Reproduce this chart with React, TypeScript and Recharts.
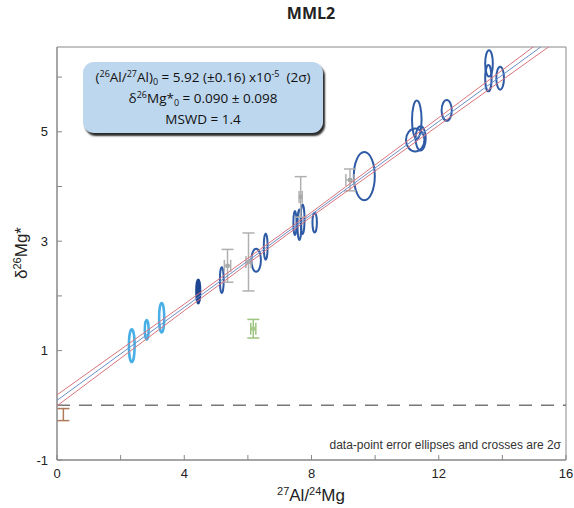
import React from 'react';
import {
  ScatterChart,
  Scatter,
  XAxis,
  YAxis,
  ReferenceArea,
  ReferenceLine,
  ErrorBar,
} from 'recharts';

// isochron fit read from the box
const fitIntercept = 0.09;
const fitSlope = 0.4249;

// envelope half width read at these x values
const envX = [0, 4, 8, 12, 16];
const envHalf = [0.1, 0.06, 0.04, 0.07, 0.11];

// ellipses: centre and 2σ half axes
const lightEllipses = [
  { x: 2.35, y: 1.09, dx: 0.09, dy: 0.3 },
  { x: 2.82, y: 1.38, dx: 0.06, dy: 0.18 },
  { x: 3.29, y: 1.6, dx: 0.08, dy: 0.27 },
];

const navyEllipses = [{ x: 4.44, y: 2.08, dx: 0.05, dy: 0.21 }];

const blueEllipses = [
  { x: 5.18, y: 2.29, dx: 0.06, dy: 0.24 },
  { x: 6.26, y: 2.65, dx: 0.15, dy: 0.21 },
  { x: 6.56, y: 2.9, dx: 0.06, dy: 0.24 },
  { x: 7.48, y: 3.33, dx: 0.05, dy: 0.22 },
  { x: 7.62, y: 3.3, dx: 0.06, dy: 0.28 },
  { x: 7.72, y: 3.4, dx: 0.06, dy: 0.27 },
  { x: 8.1, y: 3.34, dx: 0.07, dy: 0.18 },
  { x: 9.66, y: 4.19, dx: 0.33, dy: 0.44 },
  { x: 11.31, y: 5.22, dx: 0.15, dy: 0.35 },
  { x: 11.26, y: 4.85, dx: 0.29, dy: 0.21 },
  { x: 11.43, y: 4.88, dx: 0.16, dy: 0.22 },
  { x: 12.25, y: 5.39, dx: 0.16, dy: 0.19 },
  { x: 13.58, y: 6.25, dx: 0.12, dy: 0.24 },
  { x: 13.56, y: 5.98, dx: 0.1, dy: 0.24 },
  { x: 13.93, y: 5.98, dx: 0.12, dy: 0.21 },
];

// error crosses
const grayCrosses = [
  { x: 5.36, y: 2.55, ex: 0.1, ey: 0.3 },
  { x: 6.02, y: 2.62, ex: 0.08, ey: 0.53 },
  { x: 7.66, y: 3.81, ex: 0.05, ey: 0.37 },
  { x: 9.21, y: 4.12, ex: 0.13, ey: 0.2 },
];
const greenCrosses = [{ x: 6.17, y: 1.4, ex: 0.08, ey: 0.17 }];
const brownCrosses = [{ x: 0.2, y: -0.17, ex: 0.02, ey: 0.11 }];

const xTicks = [0, 2, 4, 6, 8, 10, 12, 14, 16];
const xLabels = [0, 4, 8, 12, 16];
const yTicks = [-1, 0, 1, 2, 3, 4, 5, 6];
const yLabels = [-1, 1, 3, 5];

const fitLine = envX.map((x) => ({ x, y: fitIntercept + fitSlope * x }));
const upperLine = envX.map((x, i) => ({ x, y: fitIntercept + fitSlope * x + envHalf[i] }));
const lowerLine = envX.map((x, i) => ({ x, y: fitIntercept + fitSlope * x - envHalf[i] }));

const ellipseShape = (stroke: string, width: number, fill = 'none') => (p: any) => (
  <ellipse
    cx={p.x + p.width / 2}
    cy={p.y + p.height / 2}
    rx={Math.abs(p.width) / 2}
    ry={Math.abs(p.height) / 2}
    fill={fill}
    stroke={stroke}
    strokeWidth={width}
  />
);

const centreMark = (color: string) => (p: any) => (
  <rect x={p.cx - 2} y={p.cy - 2} width={4} height={4} fill={color} />
);

const font = '"Liberation Sans", Arial, sans-serif';

// raised / lowered small text without changing line height
const Up = ({ children, size = 9, shift = -5 }: any) => (
  <span style={{ fontSize: size, position: 'relative', top: shift, lineHeight: 0 }}>{children}</span>
);

export default function App() {
  const renderEllipses = (list: typeof blueEllipses, stroke: string, w: number, fill?: string, key = '') =>
    list.map((e, i) => (
      <ReferenceArea
        key={key + i}
        x1={e.x - e.dx}
        x2={e.x + e.dx}
        y1={e.y - e.dy}
        y2={e.y + e.dy}
        ifOverflow="visible"
        shape={ellipseShape(stroke, w, fill)}
      />
    ));

  return (
    <div style={{ position: 'absolute', left: 0, top: 0, width: 574, height: 508, background: '#fff', fontFamily: font }}>
      <div style={{ position: 'absolute', left: 0, width: 622, top: 2, textAlign: 'center', fontFamily: '"Open Sans", sans-serif', fontWeight: 700, fontSize: 16, color: '#222' }}>
        MML2
      </div>

      <ScatterChart width={574} height={508} margin={{ top: 47, right: 8, bottom: 0, left: 0 }}>
        <XAxis
          type="number"
          dataKey="x"
          domain={[0, 16]}
          ticks={xTicks}
          allowDataOverflow
          height={48}
          tickSize={-5}
          tickMargin={14}
          stroke="#888"
          tick={{ fill: '#222', fontSize: 13, fontFamily: font }}
          tickFormatter={(v: number) => (xLabels.includes(v) ? String(v) : '')}
        />
        <YAxis
          type="number"
          dataKey="y"
          domain={[-1, 6.55]}
          ticks={yTicks}
          allowDataOverflow
          width={57}
          tickSize={-5}
          tickMargin={14}
          stroke="#888"
          tick={{ fill: '#222', fontSize: 13, fontFamily: font }}
          tickFormatter={(v: number) => (yLabels.includes(v) ? String(v) : '')}
        />
        <ReferenceArea x1={0} x2={16} y1={-1} y2={6.55} fill="none" stroke="#888" strokeWidth={1} ifOverflow="visible" />
        <ReferenceLine y={0} stroke="#777" strokeWidth={1.5} strokeDasharray="13 9" />

        <Scatter data={upperLine} line={{ stroke: '#d9737d', strokeWidth: 1 }} shape={() => null} isAnimationActive={false} />
        <Scatter data={lowerLine} line={{ stroke: '#d9737d', strokeWidth: 1 }} shape={() => null} isAnimationActive={false} />
        <Scatter data={fitLine} line={{ stroke: '#6b8fc9', strokeWidth: 1 }} shape={() => null} isAnimationActive={false} />

        <Scatter data={grayCrosses} shape={centreMark('#a9a9a9')} isAnimationActive={false}>
          <ErrorBar dataKey="ey" direction="y" width={6} stroke="#b0b0b0" strokeWidth={1.5} isAnimationActive={false} />
          <ErrorBar dataKey="ex" direction="x" width={6} stroke="#b0b0b0" strokeWidth={1.5} isAnimationActive={false} />
        </Scatter>
        <Scatter data={greenCrosses} shape={centreMark('#a6c98a')} isAnimationActive={false}>
          <ErrorBar dataKey="ey" direction="y" width={6} stroke="#9cc47f" strokeWidth={1.5} isAnimationActive={false} />
          <ErrorBar dataKey="ex" direction="x" width={6} stroke="#9cc47f" strokeWidth={1.5} isAnimationActive={false} />
        </Scatter>
        <Scatter data={brownCrosses} shape={() => null} isAnimationActive={false}>
          <ErrorBar dataKey="ey" direction="y" width={6} stroke="#b07a58" strokeWidth={1.5} isAnimationActive={false} />
        </Scatter>

        {renderEllipses(lightEllipses, '#47aee6', 2.5, 'none', 'l')}
        {renderEllipses(navyEllipses, '#1e4591', 3, '#2a559f', 'n')}
        {renderEllipses(blueEllipses, '#2f5ba6', 2, 'none', 'b')}
      </ScatterChart>

      <div
        style={{
          position: 'absolute',
          left: 83,
          top: 62,
          width: 240,
          height: 71,
          borderRadius: 11,
          background: '#bdd7ee',
          boxShadow: '2px 3px 2px #2b2b2b',
          textAlign: 'center',
          fontFamily: '"Open Sans", sans-serif',
          fontSize: 13.5,
          lineHeight: '21px',
          color: '#111',
          paddingTop: 5,
          boxSizing: 'border-box',
          whiteSpace: 'nowrap',
        }}
      >
        <div>
          (<Up>26</Up>Al/<Up>27</Up>Al)<Up shift={3}>0</Up> = 5.92 (±0.16) x10<Up>-5</Up>&nbsp;&nbsp;(2σ)
        </div>
        <div>
          δ<Up>26</Up>Mg*<Up shift={3}>0</Up> = 0.090 ± 0.098
        </div>
        <div>MSWD = 1.4</div>
      </div>

      <div style={{ position: 'absolute', right: 13, top: 438, fontSize: 12, color: '#333' }}>
        data-point error ellipses and crosses are 2σ
      </div>

      <div style={{ position: 'absolute', left: 0, width: 622, top: 486, textAlign: 'center', fontSize: 17, color: '#222' }}>
        <Up size={11} shift={-6}>27</Up>Al/<Up size={11} shift={-6}>24</Up>Mg
      </div>

      <div
        style={{
          position: 'absolute',
          left: 22,
          top: 253,
          transform: 'translate(-50%, -50%) rotate(-90deg)',
          fontSize: 17,
          color: '#222',
          whiteSpace: 'nowrap',
        }}
      >
        δ<Up size={11} shift={-6}>26</Up>Mg*
      </div>
    </div>
  );
}
